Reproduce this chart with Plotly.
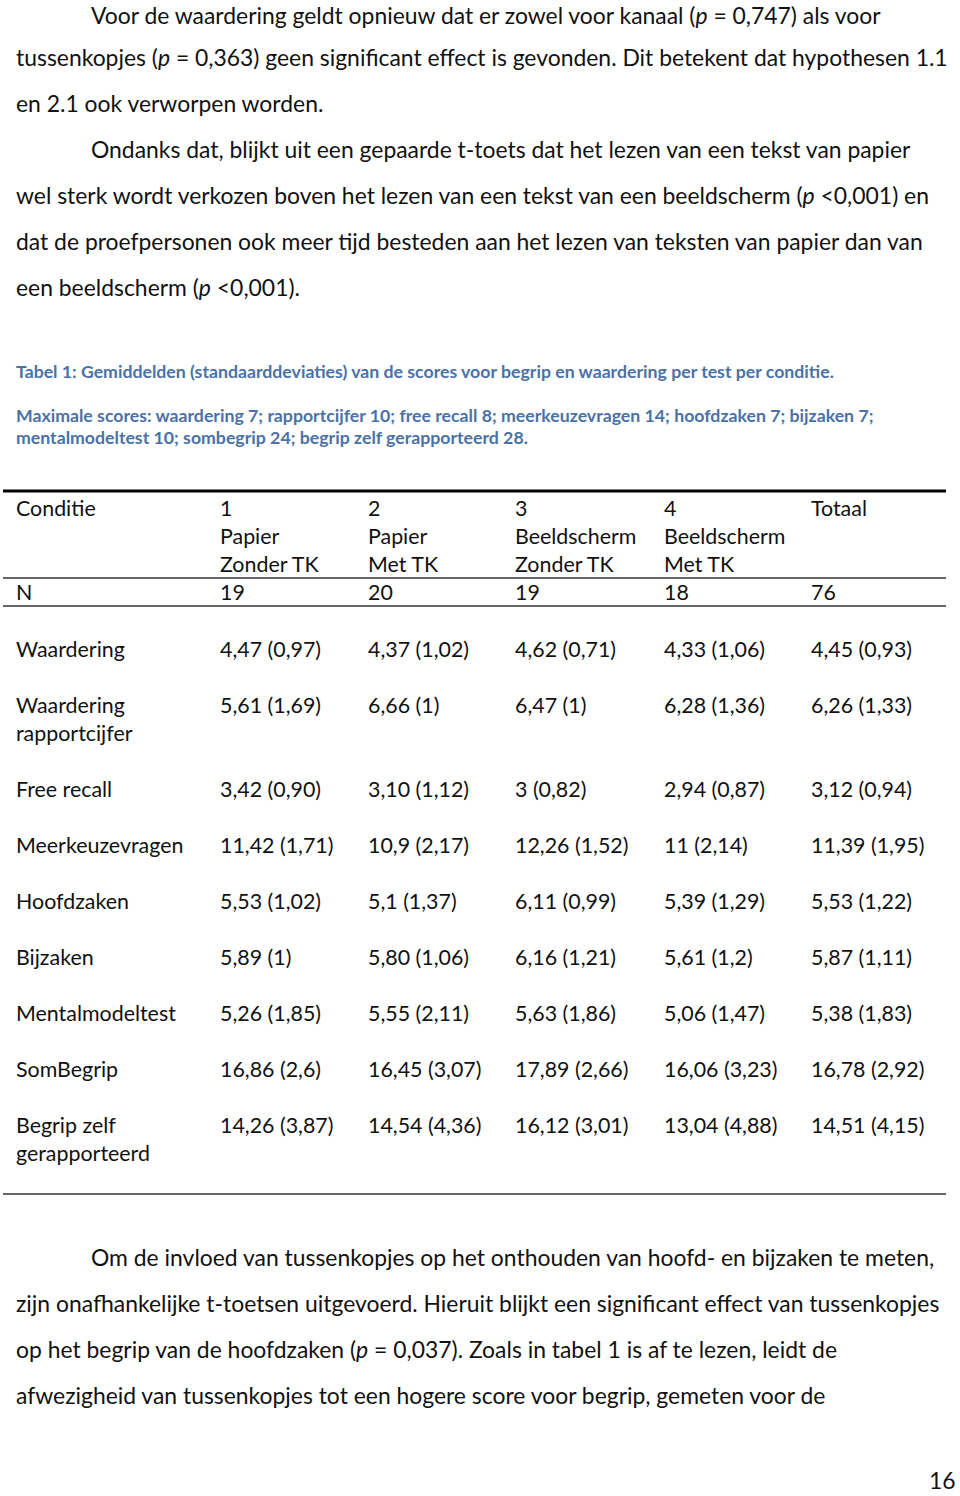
import plotly.graph_objects as go

# ---------------- data ----------------
para_top = [
    ("Voor de waardering geldt opnieuw dat er zowel voor kanaal (<i>p</i> = 0,747) als voor", 90),
    ("tussenkopjes (<i>p</i> = 0,363) geen significant effect is gevonden. Dit betekent dat hypothesen 1.1", 15),
    ("en 2.1 ook verworpen worden.", 15),
    ("Ondanks dat, blijkt uit een gepaarde t-toets dat het lezen van een tekst van papier", 90),
    ("wel sterk wordt verkozen boven het lezen van een tekst van een beeldscherm (<i>p</i> <0,001) en", 15),
    ("dat de proefpersonen ook meer tijd besteden aan het lezen van teksten van papier dan van", 15),
    ("een beeldscherm (<i>p</i> <0,001).", 15),
]
para_top_y = [15, 57, 103, 149, 195, 241, 287]

caption_lines = [
    "Tabel 1: Gemiddelden (standaarddeviaties) van de scores voor begrip en waardering per test per conditie.",
    "Maximale scores: waardering 7; rapportcijfer 10; free recall 8; meerkeuzevragen 14; hoofdzaken 7; bijzaken 7;",
    "mentalmodeltest 10; sombegrip 24; begrip zelf gerapporteerd 28.",
]
caption_y = [371, 415, 437]

header_cols = ["1<br>Papier<br>Zonder TK", "2<br>Papier<br>Met TK",
               "3<br>Beeldscherm<br>Zonder TK", "4<br>Beeldscherm<br>Met TK", "Totaal"]
n_values = ["19", "20", "19", "18", "76"]

row_labels = ["Waardering", "Waardering<br>rapportcijfer", "Free recall", "Meerkeuzevragen",
              "Hoofdzaken", "Bijzaken", "Mentalmodeltest", "SomBegrip", "Begrip zelf<br>gerapporteerd"]
col1 = ["4,47 (0,97)", "5,61 (1,69)", "3,42 (0,90)", "11,42 (1,71)", "5,53 (1,02)",
        "5,89 (1)", "5,26 (1,85)", "16,86 (2,6)", "14,26 (3,87)"]
col2 = ["4,37 (1,02)", "6,66 (1)", "3,10 (1,12)", "10,9 (2,17)", "5,1 (1,37)",
        "5,80 (1,06)", "5,55 (2,11)", "16,45 (3,07)", "14,54 (4,36)"]
col3 = ["4,62 (0,71)", "6,47 (1)", "3 (0,82)", "12,26 (1,52)", "6,11 (0,99)",
        "6,16 (1,21)", "5,63 (1,86)", "17,89 (2,66)", "16,12 (3,01)"]
col4 = ["4,33 (1,06)", "6,28 (1,36)", "2,94 (0,87)", "11 (2,14)", "5,39 (1,29)",
        "5,61 (1,2)", "5,06 (1,47)", "16,06 (3,23)", "13,04 (4,88)"]
col_tot = ["4,45 (0,93)", "6,26 (1,33)", "3,12 (0,94)", "11,39 (1,95)", "5,53 (1,22)",
           "5,87 (1,11)", "5,38 (1,83)", "16,78 (2,92)", "14,51 (4,15)"]
row_y = [649, 705, 789, 845, 901, 957, 1013, 1069, 1125]

para_bottom = [
    ("Om de invloed van tussenkopjes op het onthouden van hoofd- en bijzaken te meten,", 90),
    ("zijn onafhankelijke t-toetsen uitgevoerd. Hieruit blijkt een significant effect van tussenkopjes", 15),
    ("op het begrip van de hoofdzaken (<i>p</i> = 0,037). Zoals in tabel 1 is af te lezen, leidt de", 15),
    ("afwezigheid van tussenkopjes tot een hogere score voor begrip, gemeten voor de", 15),
]
para_bottom_y = [1257, 1303, 1349, 1395]
page_number = "16"

# ---------------- styling ----------------
FONT = "Lato"
col_x = [219, 367, 514, 663, 810]
label_x = 15
body = dict(family=FONT, size=22.9, color="#111")
tbl = dict(family=FONT, size=21.4, color="#111")
cap = dict(family=FONT, size=17.7, color="#4a72a6")

fig = go.Figure()
fig.add_trace(go.Scatter(x=[0, 960], y=[0, 1496], mode="markers",
                         marker=dict(opacity=0), hoverinfo="skip", showlegend=False))

ann = []
def txt(x, y, t, font, xanchor="left"):
    ann.append(dict(x=x, y=y, text=t, xref="x", yref="y", showarrow=False,
                    xanchor=xanchor, yanchor="middle", align="left", font=font))

for (t, x), y in zip(para_top, para_top_y):
    txt(x - 1, y, t, body)
for t, y in zip(caption_lines, caption_y):
    txt(15 - 1, y, "<b>" + t + "</b>", cap)

# header
txt(label_x - 1, 508, "Conditie", tbl)
for x, h in zip(col_x, header_cols):
    for i, part in enumerate(h.split("<br>")):
        txt(x - 1, 508 + 28 * i, part, tbl)
txt(label_x - 1, 592, "N", tbl)
for x, v in zip(col_x, n_values):
    txt(x - 1, 592, v, tbl)

cols = [col1, col2, col3, col4, col_tot]
for r, (lab, y) in enumerate(zip(row_labels, row_y)):
    for i, part in enumerate(lab.split("<br>")):
        txt(label_x - 1, y + 28 * i, part, tbl)
    for x, c in zip(col_x, cols):
        txt(x - 1, y, c[r], tbl)

for (t, x), y in zip(para_bottom, para_bottom_y):
    txt(x - 1, y, t, body)
txt(958, 1480, page_number, body, xanchor="right")

shapes = [
    dict(type="line", x0=3, x1=946, y0=491, y1=491, line=dict(color="#000", width=3)),
    dict(type="line", x0=3, x1=946, y0=578, y1=578, line=dict(color="#333", width=1.3)),
    dict(type="line", x0=3, x1=946, y0=606, y1=606, line=dict(color="#333", width=1.3)),
    dict(type="line", x0=3, x1=946, y0=1194, y1=1194, line=dict(color="#333", width=1.3)),
]
for s in shapes:
    s.update(xref="x", yref="y")

fig.update_layout(
    width=960, height=1496, margin=dict(l=0, r=0, t=0, b=0),
    paper_bgcolor="white", plot_bgcolor="white",
    xaxis=dict(range=[0, 960], visible=False, fixedrange=True),
    yaxis=dict(range=[1496, 0], visible=False, fixedrange=True),
    annotations=ann, shapes=shapes,
)
fig.write_html("out.html", config={"displayModeBar": False},
               post_script="document.body.style.margin='0';document.body.style.overflow='hidden';")
